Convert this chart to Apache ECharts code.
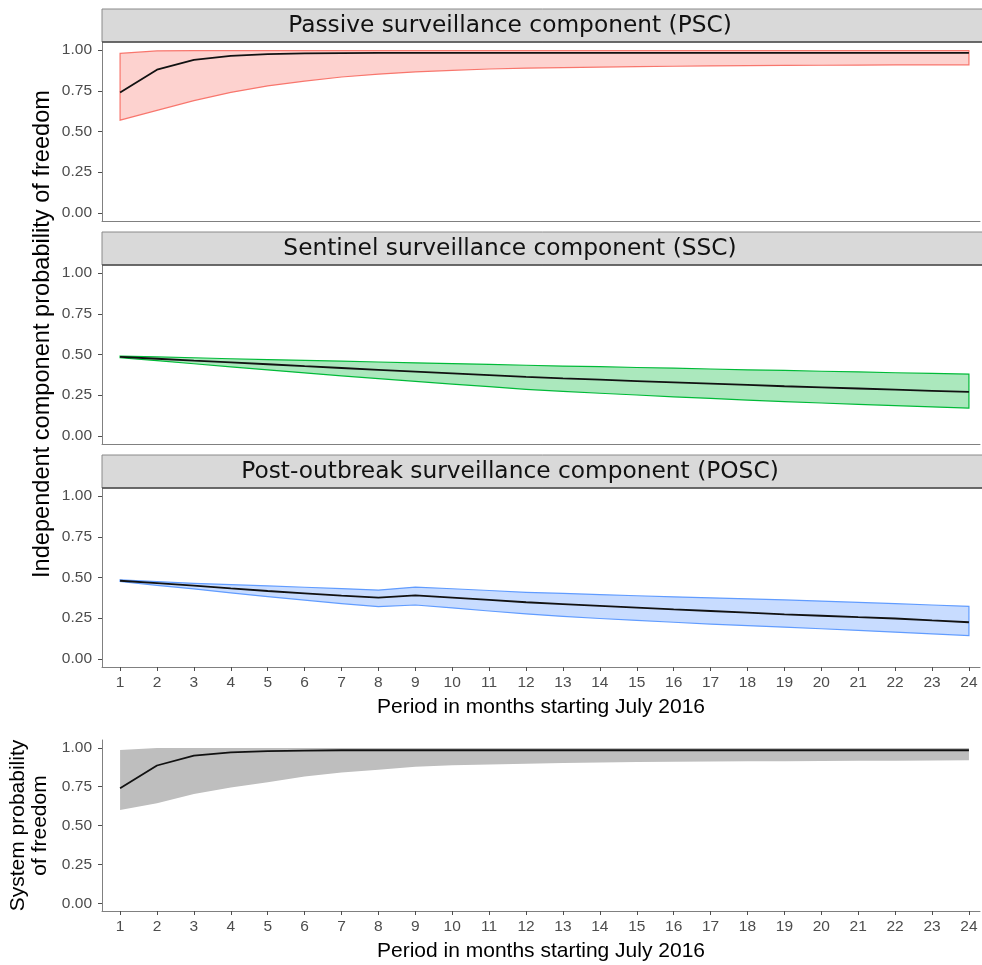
<!DOCTYPE html>
<html>
<head>
<meta charset="utf-8">
<script src="https://cdn.jsdelivr.net/npm/echarts@6/dist/echarts.min.js"></script>
<style>html,body{margin:0;padding:0;background:#fff;}#c{width:982px;height:965px;}</style>
</head>
<body>
<div id="c"></div>
<script>
// ---- data ----
const months = [1,2,3,4,5,6,7,8,9,10,11,12,13,14,15,16,17,18,19,20,21,22,23,24];
const yTicks = [0, 0.25, 0.5, 0.75, 1];
const stripLabels = ["Passive surveillance component (PSC)", "Sentinel surveillance component (SSC)", "Post-outbreak surveillance component (POSC)"];
const xTitle = "Period in months starting July 2016";
const yTitleTop = "Independent component probability of freedom";
const yTitleSystem = "System probability\nof freedom";

const pscMean  = [0.74,0.88,0.94,0.965,0.975,0.98,0.982,0.983,0.983,0.983,0.983,0.983,0.983,0.983,0.983,0.983,0.983,0.983,0.983,0.983,0.983,0.983,0.983,0.983];
const pscUpper = [0.98,0.995,0.997,0.997,0.997,0.997,0.997,0.997,0.997,0.997,0.997,0.997,0.997,0.997,0.997,0.997,0.997,0.997,0.997,0.997,0.997,0.997,0.997,0.997];
const pscLower = [0.57,0.63,0.69,0.74,0.78,0.81,0.835,0.852,0.866,0.876,0.884,0.889,0.893,0.896,0.899,0.901,0.903,0.905,0.906,0.907,0.908,0.909,0.909,0.91];

const sscMean  = [0.485,0.474,0.462,0.451,0.44,0.428,0.417,0.406,0.395,0.384,0.373,0.362,0.353,0.345,0.337,0.329,0.321,0.313,0.305,0.298,0.291,0.284,0.277,0.27];
const sscUpper = [0.49,0.485,0.48,0.474,0.469,0.464,0.459,0.454,0.449,0.444,0.439,0.434,0.429,0.425,0.42,0.416,0.411,0.406,0.402,0.397,0.393,0.388,0.384,0.379];
const sscLower = [0.48,0.462,0.443,0.424,0.405,0.387,0.369,0.352,0.335,0.318,0.302,0.286,0.274,0.262,0.251,0.24,0.23,0.22,0.211,0.202,0.194,0.186,0.178,0.17];

const poscMean  = [0.48,0.465,0.45,0.433,0.417,0.403,0.389,0.376,0.39,0.376,0.362,0.348,0.337,0.326,0.315,0.304,0.294,0.284,0.274,0.265,0.256,0.248,0.236,0.225];
const poscUpper = [0.485,0.475,0.464,0.456,0.448,0.44,0.432,0.423,0.441,0.431,0.42,0.409,0.402,0.395,0.388,0.381,0.375,0.369,0.362,0.355,0.347,0.339,0.331,0.323];
const poscLower = [0.475,0.452,0.43,0.405,0.382,0.361,0.34,0.321,0.331,0.313,0.294,0.276,0.261,0.248,0.236,0.225,0.214,0.204,0.195,0.185,0.175,0.164,0.154,0.143];

const sysMean  = [0.74,0.886,0.95,0.97,0.978,0.982,0.984,0.984,0.984,0.984,0.984,0.984,0.984,0.984,0.984,0.984,0.984,0.984,0.984,0.984,0.984,0.984,0.984,0.984];
const sysUpper = [0.985,0.998,0.999,0.999,0.999,0.999,0.999,0.999,0.999,0.999,0.999,0.999,0.999,0.999,0.999,0.999,0.999,0.999,0.999,0.999,0.999,0.999,0.999,0.999];
const sysLower = [0.6,0.643,0.703,0.744,0.779,0.815,0.841,0.858,0.878,0.887,0.893,0.898,0.902,0.905,0.908,0.91,0.912,0.913,0.914,0.915,0.916,0.917,0.918,0.919];

// ---- layout / style ----
const SANS = "'Liberation Sans', Arial, sans-serif";
const STRIPFONT = "'DejaVu Sans', sans-serif";
const grids = [
  {left:102, right:2, top:42, height:179, outerBoundsMode:'none', containLabel:false},
  {left:102, right:2, top:265, height:179, outerBoundsMode:'none', containLabel:false},
  {left:102, right:2, top:488, height:179, outerBoundsMode:'none', containLabel:false},
  {left:102, right:2, top:740, height:171, outerBoundsMode:'none', containLabel:false}
];
const stripTops = [9, 232, 455];
const showX = [false, false, true, true];

const xAxes = grids.map((g, i) => ({
  type:'value', gridIndex:i, min:0.51, max:24.3,
  axisLine:{show:true, onZero:false, lineStyle:{color:'#808080', width:1}},
  axisTick:{show:showX[i], customValues:months, length:4, lineStyle:{color:'#4d4d4d'}},
  axisLabel:{show:showX[i], customValues:months, color:'#4d4d4d', fontFamily:SANS, fontSize:15.5, margin:8},
  splitLine:{show:false},
  name: showX[i] ? xTitle : '', nameLocation:'middle', nameGap:30,
  nameTextStyle:{color:'#000', fontFamily:SANS, fontSize:21}
}));
const yAxes = grids.map((g, i) => ({
  type:'value', gridIndex:i, min:-0.05, max:1.05,
  axisLine:{show:true, onZero:false, lineStyle:{color:'#808080', width:1}},
  axisTick:{show:true, customValues:yTicks, length:4, lineStyle:{color:'#4d4d4d'}},
  axisLabel:{customValues:yTicks, color:'#4d4d4d', fontFamily:SANS, fontSize:15.5, margin:10, formatter:v => v.toFixed(2)},
  splitLine:{show:false},
  name: i === 3 ? yTitleSystem : '', nameLocation:'middle', nameGap:49,
  nameTextStyle:{color:'#000', fontFamily:SANS, fontSize:21, lineHeight:22}
}));

function band(i, lo, hi, fill, stroke) {
  return {
    type:'custom', xAxisIndex:i, yAxisIndex:i, silent:true, z:1,
    data: months.map((m, k) => [m, lo[k], hi[k]]),
    encode:{x:0, y:[1,2]},
    renderItem:(params, api) => {
      if (params.dataIndex !== 0) return null;
      const pts = [];
      for (let k = 0; k < months.length; k++) pts.push(api.coord([months[k], hi[k]]));
      for (let k = months.length - 1; k >= 0; k--) pts.push(api.coord([months[k], lo[k]]));
      return {type:'polygon', shape:{points:pts}, style:{fill:fill, stroke:stroke, lineWidth:stroke ? 1.2 : 0}};
    }
  };
}
function meanLine(i, vals) {
  return {type:'line', xAxisIndex:i, yAxisIndex:i, showSymbol:false, symbol:'none', z:3,
    lineStyle:{color:'#111', width:1.8}, data: months.map((m, k) => [m, vals[k]])};
}

const graphics = [];
stripTops.forEach((t, i) => {
  graphics.push({type:'rect', z:5, shape:{x:102, y:t, width:900, height:33}, style:{fill:'#d9d9d9', stroke:'#8a8a8a', lineWidth:1}});
  graphics.push({type:'line', z:6, shape:{x1:102, y1:t+33, x2:982, y2:t+33}, style:{stroke:'#4d4d4d', lineWidth:1.5}});
  graphics.push({type:'text', z:7, x:510, y:t+17, style:{text:stripLabels[i], fill:'#111', font:"23.3px " + STRIPFONT, textAlign:'center', textVerticalAlign:'middle'}});
});
graphics.push({type:'text', z:7, x:42, y:334, rotation:Math.PI/2, style:{text:yTitleTop, fill:'#000', font:"23.6px " + SANS, textAlign:'center', textVerticalAlign:'middle'}});

const chart = echarts.init(document.getElementById('c'), null, {renderer:'canvas'});
chart.setOption({
  animation:false,
  backgroundColor:'#fff',
  grid: grids,
  xAxis: xAxes,
  yAxis: yAxes,
  graphic: graphics,
  series: [
    band(0, pscLower, pscUpper, 'rgba(248,118,109,0.33)', '#F8766D'),
    meanLine(0, pscMean),
    band(1, sscLower, sscUpper, 'rgba(0,186,56,0.33)', '#00BA38'),
    meanLine(1, sscMean),
    band(2, poscLower, poscUpper, 'rgba(97,156,255,0.35)', '#619CFF'),
    meanLine(2, poscMean),
    band(3, sysLower, sysUpper, '#bebebe', null),
    meanLine(3, sysMean)
  ]
});
</script>
</body>
</html>
